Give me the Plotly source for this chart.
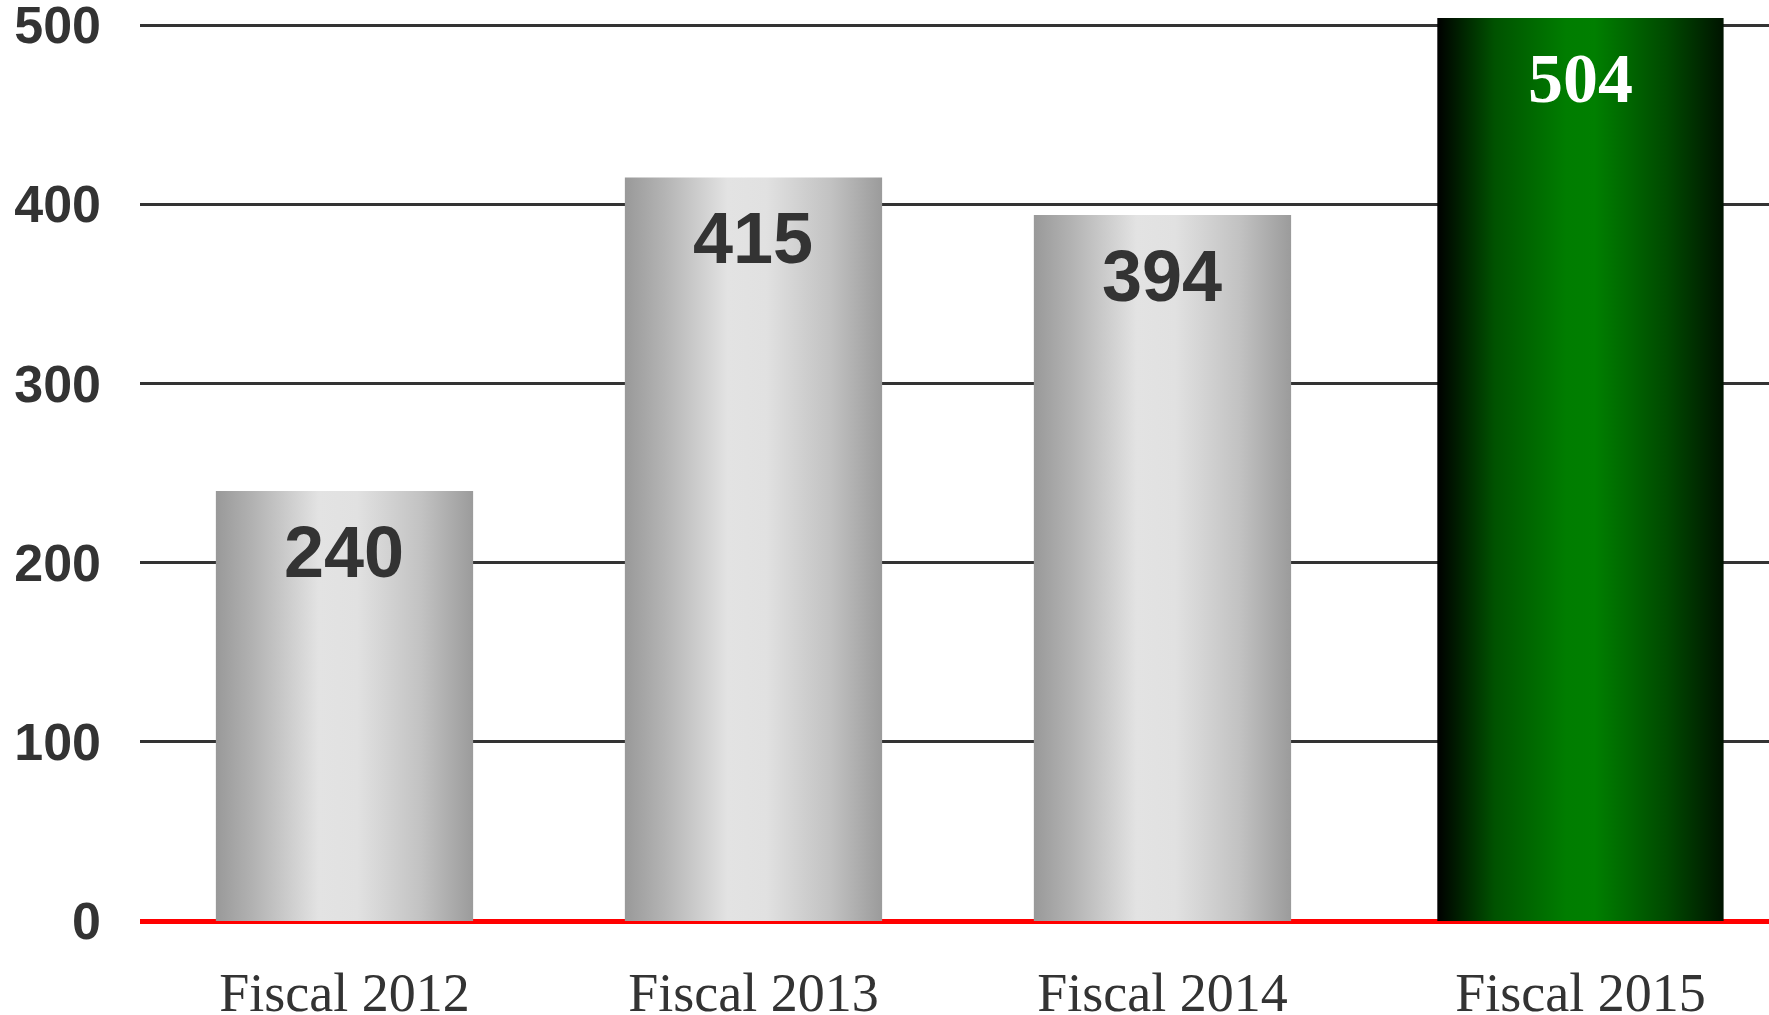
import plotly.graph_objects as go

# ---- data ----
categories = ["Fiscal 2012", "Fiscal 2013", "Fiscal 2014", "Fiscal 2015"]
values = [240, 415, 394, 504]
value_labels = ["240", "415", "394", "504"]
y_ticks = [0, 100, 200, 300, 400, 500]
y_tick_labels = ["0", "100", "200", "300", "400", "500"]

# ---- style ----
bar_widths = [0.629, 0.629, 0.629, 0.70]
bar_offsets = [0.0, 0.0, 0.0, 0.022]
gray_scale = [[0, "#999999"], [0.15, "#b3b3b3"], [0.4, "#e3e3e3"], [0.55, "#e1e1e1"],
              [0.8, "#c2c2c2"], [1, "#9b9b9b"]]
green_scale = [[0, "#000000"], [0.2, "#005200"], [0.45, "#007d00"], [0.55, "#007f00"],
               [0.8, "#004a00"], [1, "#001400"]]
highlight = [False, False, False, True]

fig = go.Figure()

centers = [i + bar_offsets[i] for i in range(len(categories))]
for i, (cat, v) in enumerate(zip(categories, values)):
    c = centers[i]
    w = bar_widths[i]
    x0, x1 = c - w / 2, c + w / 2
    fig.add_trace(go.Scatter(
        x=[x0, x1, x1, x0, x0],
        y=[0, 0, v, v, 0],
        mode="lines",
        line=dict(width=0),
        fill="toself",
        fillgradient=dict(type="horizontal",
                          colorscale=green_scale if highlight[i] else gray_scale),
        name=cat,
        hoverinfo="skip",
        showlegend=False,
    ))
    if highlight[i]:
        font = dict(family="Liberation Serif", size=70, color="white", weight="bold")
    else:
        font = dict(family="Liberation Sans", size=72, color="#333333", weight="bold")
    fig.add_annotation(x=c, y=v, text=value_labels[i], showarrow=False,
                       xref="x", yref="y", yanchor="middle", yshift=-61, font=font)

fig.update_layout(
    width=1769, height=1015,
    margin=dict(l=140, r=0, t=0, b=94, pad=0),
    paper_bgcolor="white", plot_bgcolor="white",
    showlegend=False,
    xaxis=dict(
        range=[-0.5, 3.483], tickmode="array", tickvals=centers,
        ticktext=categories, showgrid=False, zeroline=False, showline=False,
        ticks="", ticklabelstandoff=35, automargin=False, ticklabeloverflow="allow",
        tickfont=dict(family="Liberation Serif", size=54, color="#333333"),
    ),
    yaxis=dict(
        range=[0, 514], tickmode="array", tickvals=y_ticks, ticktext=y_tick_labels,
        showgrid=True, gridcolor="#333333", gridwidth=3,
        zeroline=True, zerolinecolor="#ff0000", zerolinewidth=5,
        showline=False, ticks="", ticklabelstandoff=38, automargin=False,
        ticklabeloverflow="allow",
        tickfont=dict(family="Liberation Sans", size=52, color="#333333", weight="bold"),
    ),
)

fig.write_html("out.html", config={"displayModeBar": False},
               post_script="document.body.style.margin='0';document.body.style.overflow='hidden';")
